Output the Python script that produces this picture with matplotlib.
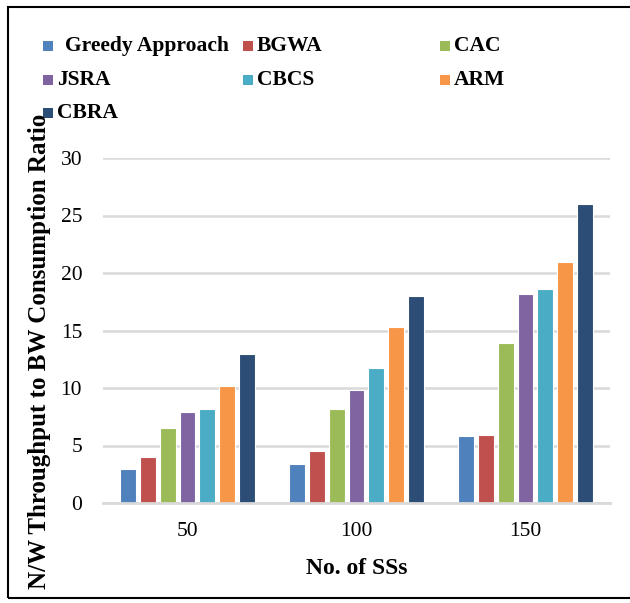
import matplotlib
matplotlib.use("Agg")
import matplotlib.pyplot as plt
from matplotlib.patches import Rectangle
import numpy as np

categories = ["50", "100", "150"]
series_names = ["Greedy Approach", "BGWA", "CAC", "JSRA", "CBCS", "ARM", "CBRA"]
greedy = [3.0, 3.4, 5.8]
bgwa = [4.0, 4.5, 5.9]
cac = [6.5, 8.2, 13.9]
jsra = [7.9, 9.8, 18.2]
cbcs = [8.2, 11.7, 18.6]
arm = [10.2, 15.3, 21.0]
cbra = [13.0, 18.0, 26.0]
yticks = [0, 5, 10, 15, 20, 25, 30]

values = [greedy, bgwa, cac, jsra, cbcs, arm, cbra]
colors = ["#4F81BD", "#C0504D", "#9BBB59", "#8064A2", "#4BACC6", "#F79646", "#2C4D75"]

plt.rcParams['font.family'] = ['Liberation Serif', 'DejaVu Serif']

fig = plt.figure(figsize=(6.3, 6.03), dpi=100)
ax = fig.add_axes([103/630, 1-503/603, (610-103)/630, (503-158)/603])

n = len(values)
slot = 0.117
x = np.arange(len(categories))
for i, (vals, c) in enumerate(zip(values, colors)):
    offs = (i - (n-1)/2) * slot
    ax.bar(x + offs, vals, width=0.094, color=c, edgecolor='white', linewidth=0.8, zorder=3)

ax.set_xlim(-0.5, len(categories)-0.5)
ax.set_ylim(0, 30)
ax.set_yticks(yticks)
ax.set_yticklabels([str(t) for t in yticks])
ax.set_xticks(x)
ax.set_xticklabels(categories)
ax.tick_params(axis='both', length=0, labelsize=15.5, colors='black')
ax.tick_params(axis='y', pad=15)
ax.tick_params(axis='x', pad=14)
ax.grid(axis='y', color='#D9D9D9', linewidth=1.8, zorder=0)
for s in ['top', 'right', 'left']:
    ax.spines[s].set_visible(False)
ax.spines['bottom'].set_color('#D9D9D9')
ax.spines['bottom'].set_linewidth(2.0)
ax.spines['bottom'].set_zorder(4)

fig.text(357/630, 1-568/603, "No. of SSs", ha='center', va='center', fontsize=17, fontweight='bold')
fig.text(40/630, 1-351/603, "N/W Throughput to BW Consumption Ratio", ha='center', va='center',
         rotation=90, fontsize=18, fontweight='bold')

# legend (manual, Excel-like fixed columns)
col_x = [43, 243, 440]
row_y = [46, 80, 113]
for i, (name, c) in enumerate(zip(series_names, colors)):
    cx = col_x[i % 3]
    cy = row_y[i // 3]
    fig.patches.append(Rectangle((cx/630, 1-(cy+5)/603), 10/630, 10/603, transform=fig.transFigure,
                                 facecolor=c, edgecolor='none'))
    tx = cx + 14 + (8 if i == 0 else 0)
    fig.text(tx/630, 1-cy/603, name, ha='left', va='center', fontsize=15.5, fontweight='bold')

# outer border
fig.patches.append(Rectangle((8/630, 1-598/603), 1.0, (598-7)/603, transform=fig.transFigure,
                             facecolor='none', edgecolor='black', linewidth=1.5))

fig.savefig("out.png", dpi=100)
